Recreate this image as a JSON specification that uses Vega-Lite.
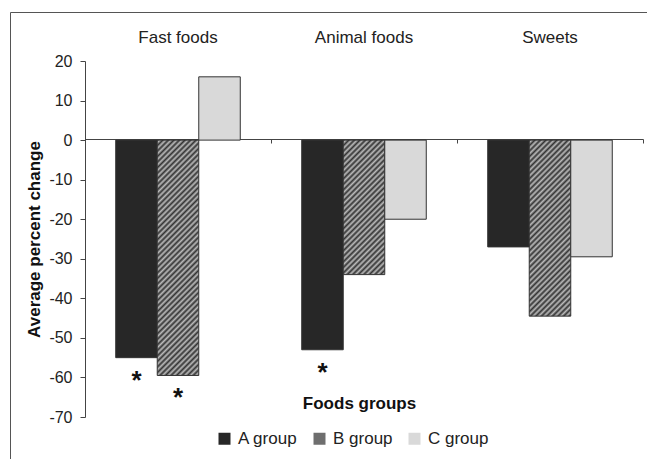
{
  "$schema": "https://vega.github.io/schema/vega-lite/v6.json",
  "width": 637,
  "height": 447,
  "autosize": {"type": "none"},
  "padding": {"left": 10, "top": 12, "right": 0, "bottom": 0},
  "background": "white",
  "data": {
    "values": [
      {"food": "Fast foods", "group": "A group", "value": -55, "sig": "*"},
      {"food": "Fast foods", "group": "B group", "value": -59.5, "sig": "*"},
      {"food": "Fast foods", "group": "C group", "value": 16, "sig": ""},
      {"food": "Animal foods", "group": "A group", "value": -53, "sig": "*"},
      {"food": "Animal foods", "group": "B group", "value": -34, "sig": ""},
      {"food": "Animal foods", "group": "C group", "value": -20, "sig": ""},
      {"food": "Sweets", "group": "A group", "value": -27, "sig": ""},
      {"food": "Sweets", "group": "B group", "value": -44.5, "sig": ""},
      {"food": "Sweets", "group": "C group", "value": -29.5, "sig": ""}
    ]
  },
  "encoding": {
    "xOffset": {
      "field": "group", "type": "nominal",
      "sort": ["A group", "B group", "C group"],
      "scale": {"paddingInner": 0, "paddingOuter": 0.74}
    },
    "y": {
      "field": "value", "type": "quantitative",
      "scale": {"domain": [-70, 20], "range": [405, 49], "nice": false, "zero": false},
      "axis": {"offset": -75, "values": [-70, -60, -50, -40, -30, -20, -10, 0, 10, 20], "labelExpr": "'' + datum.value", "tickSize": 5, "labelPadding": 8, "grid": false, "title": "Average percent change", "titlePadding": 5}
    }
  },
  "layer": [
    {
      "mark": {"type": "bar", "stroke": "#333", "strokeWidth": 1},
      "encoding": {
        "x": {
          "field": "food", "type": "nominal",
          "sort": ["Fast foods", "Animal foods", "Sweets"],
          "scale": {"range": [75, 633], "paddingInner": 0, "paddingOuter": 0},
          "axis": {"orient": "top", "offset": -30, "domain": false, "ticks": false, "tickSize": 0, "labelPadding": 0, "labelBaseline": "alphabetic", "labelAngle": 0, "labelFontSize": 17, "labelColor": "#222", "title": null}
        },
        "fill": {
          "field": "group", "type": "nominal",
          "scale": {"domain": ["A group", "B group", "C group"], "range": ["#272727", "#6e6e6e", "#d9d9d9"]},
          "legend": {
            "orient": "none", "legendX": 206, "legendY": 418, "direction": "horizontal", "title": null,
            "symbolType": "square", "symbolSize": 144, "symbolStrokeWidth": 0, "labelFontSize": 17, "labelColor": "#222",
            "labelOffset": 5, "columnPadding": 13, "padding": 0,
            "encode": {
              "symbols": {
                "update": {
                  "fill": {"signal": "datum.value === 'B group' ? {gradient: 'linear', x1: 0, y1: 1, x2: 1, y2: 0, stops: [{offset: 0, color: '#333'}, {offset: 0.1, color: '#bbb'}, {offset: 0.2, color: '#333'}, {offset: 0.3, color: '#bbb'}, {offset: 0.4, color: '#333'}, {offset: 0.5, color: '#bbb'}, {offset: 0.6, color: '#333'}, {offset: 0.7, color: '#bbb'}, {offset: 0.8, color: '#333'}, {offset: 0.9, color: '#bbb'}, {offset: 1, color: '#333'}]} : scale('fill', datum.value)"}
                }
              }
            }
          },
          "condition": [
            {"test": "datum.group === 'B group' && datum.food === 'Fast foods'", "value": {"gradient": "linear", "x1": 0, "y1": 0, "x2": 0.2012, "y2": 1.1408, "stops": [
              {"offset": 0, "color": "#333"}, {"offset": 0.01, "color": "#bbb"}, {"offset": 0.02, "color": "#333"}, {"offset": 0.03, "color": "#bbb"}, {"offset": 0.04, "color": "#333"}, {"offset": 0.05, "color": "#bbb"}, {"offset": 0.06, "color": "#333"}, {"offset": 0.07, "color": "#bbb"}, {"offset": 0.08, "color": "#333"}, {"offset": 0.09, "color": "#bbb"},
              {"offset": 0.1, "color": "#333"}, {"offset": 0.11, "color": "#bbb"}, {"offset": 0.12, "color": "#333"}, {"offset": 0.13, "color": "#bbb"}, {"offset": 0.14, "color": "#333"}, {"offset": 0.15, "color": "#bbb"}, {"offset": 0.16, "color": "#333"}, {"offset": 0.17, "color": "#bbb"}, {"offset": 0.18, "color": "#333"}, {"offset": 0.19, "color": "#bbb"},
              {"offset": 0.2, "color": "#333"}, {"offset": 0.21, "color": "#bbb"}, {"offset": 0.22, "color": "#333"}, {"offset": 0.23, "color": "#bbb"}, {"offset": 0.24, "color": "#333"}, {"offset": 0.25, "color": "#bbb"}, {"offset": 0.26, "color": "#333"}, {"offset": 0.27, "color": "#bbb"}, {"offset": 0.28, "color": "#333"}, {"offset": 0.29, "color": "#bbb"},
              {"offset": 0.3, "color": "#333"}, {"offset": 0.31, "color": "#bbb"}, {"offset": 0.32, "color": "#333"}, {"offset": 0.33, "color": "#bbb"}, {"offset": 0.34, "color": "#333"}, {"offset": 0.35, "color": "#bbb"}, {"offset": 0.36, "color": "#333"}, {"offset": 0.37, "color": "#bbb"}, {"offset": 0.38, "color": "#333"}, {"offset": 0.39, "color": "#bbb"},
              {"offset": 0.4, "color": "#333"}, {"offset": 0.41, "color": "#bbb"}, {"offset": 0.42, "color": "#333"}, {"offset": 0.43, "color": "#bbb"}, {"offset": 0.44, "color": "#333"}, {"offset": 0.45, "color": "#bbb"}, {"offset": 0.46, "color": "#333"}, {"offset": 0.47, "color": "#bbb"}, {"offset": 0.48, "color": "#333"}, {"offset": 0.49, "color": "#bbb"},
              {"offset": 0.5, "color": "#333"}, {"offset": 0.51, "color": "#bbb"}, {"offset": 0.52, "color": "#333"}, {"offset": 0.53, "color": "#bbb"}, {"offset": 0.54, "color": "#333"}, {"offset": 0.55, "color": "#bbb"}, {"offset": 0.56, "color": "#333"}, {"offset": 0.57, "color": "#bbb"}, {"offset": 0.58, "color": "#333"}, {"offset": 0.59, "color": "#bbb"},
              {"offset": 0.6, "color": "#333"}, {"offset": 0.61, "color": "#bbb"}, {"offset": 0.62, "color": "#333"}, {"offset": 0.63, "color": "#bbb"}, {"offset": 0.64, "color": "#333"}, {"offset": 0.65, "color": "#bbb"}, {"offset": 0.66, "color": "#333"}, {"offset": 0.67, "color": "#bbb"}, {"offset": 0.68, "color": "#333"}, {"offset": 0.69, "color": "#bbb"},
              {"offset": 0.7, "color": "#333"}, {"offset": 0.71, "color": "#bbb"}, {"offset": 0.72, "color": "#333"}, {"offset": 0.73, "color": "#bbb"}, {"offset": 0.74, "color": "#333"}, {"offset": 0.75, "color": "#bbb"}, {"offset": 0.76, "color": "#333"}, {"offset": 0.77, "color": "#bbb"}, {"offset": 0.78, "color": "#333"}, {"offset": 0.79, "color": "#bbb"},
              {"offset": 0.8, "color": "#333"}, {"offset": 0.81, "color": "#bbb"}, {"offset": 0.82, "color": "#333"}, {"offset": 0.83, "color": "#bbb"}, {"offset": 0.84, "color": "#333"}, {"offset": 0.85, "color": "#bbb"}, {"offset": 0.86, "color": "#333"}, {"offset": 0.87, "color": "#bbb"}, {"offset": 0.88, "color": "#333"}, {"offset": 0.89, "color": "#bbb"},
              {"offset": 0.9, "color": "#333"}, {"offset": 0.91, "color": "#bbb"}, {"offset": 0.92, "color": "#333"}, {"offset": 0.93, "color": "#bbb"}, {"offset": 0.94, "color": "#333"}, {"offset": 0.95, "color": "#bbb"}, {"offset": 0.96, "color": "#333"}, {"offset": 0.97, "color": "#bbb"}, {"offset": 0.98, "color": "#333"}, {"offset": 0.99, "color": "#bbb"},
              {"offset": 1, "color": "#333"}
            ]}},
            {"test": "datum.group === 'B group' && datum.food === 'Animal foods'", "value": {"gradient": "linear", "x1": 0, "y1": 0, "x2": 0.5802, "y2": 1.8797, "stops": [
              {"offset": 0, "color": "#333"}, {"offset": 0.01, "color": "#bbb"}, {"offset": 0.02, "color": "#333"}, {"offset": 0.03, "color": "#bbb"}, {"offset": 0.04, "color": "#333"}, {"offset": 0.05, "color": "#bbb"}, {"offset": 0.06, "color": "#333"}, {"offset": 0.07, "color": "#bbb"}, {"offset": 0.08, "color": "#333"}, {"offset": 0.09, "color": "#bbb"},
              {"offset": 0.1, "color": "#333"}, {"offset": 0.11, "color": "#bbb"}, {"offset": 0.12, "color": "#333"}, {"offset": 0.13, "color": "#bbb"}, {"offset": 0.14, "color": "#333"}, {"offset": 0.15, "color": "#bbb"}, {"offset": 0.16, "color": "#333"}, {"offset": 0.17, "color": "#bbb"}, {"offset": 0.18, "color": "#333"}, {"offset": 0.19, "color": "#bbb"},
              {"offset": 0.2, "color": "#333"}, {"offset": 0.21, "color": "#bbb"}, {"offset": 0.22, "color": "#333"}, {"offset": 0.23, "color": "#bbb"}, {"offset": 0.24, "color": "#333"}, {"offset": 0.25, "color": "#bbb"}, {"offset": 0.26, "color": "#333"}, {"offset": 0.27, "color": "#bbb"}, {"offset": 0.28, "color": "#333"}, {"offset": 0.29, "color": "#bbb"},
              {"offset": 0.3, "color": "#333"}, {"offset": 0.31, "color": "#bbb"}, {"offset": 0.32, "color": "#333"}, {"offset": 0.33, "color": "#bbb"}, {"offset": 0.34, "color": "#333"}, {"offset": 0.35, "color": "#bbb"}, {"offset": 0.36, "color": "#333"}, {"offset": 0.37, "color": "#bbb"}, {"offset": 0.38, "color": "#333"}, {"offset": 0.39, "color": "#bbb"},
              {"offset": 0.4, "color": "#333"}, {"offset": 0.41, "color": "#bbb"}, {"offset": 0.42, "color": "#333"}, {"offset": 0.43, "color": "#bbb"}, {"offset": 0.44, "color": "#333"}, {"offset": 0.45, "color": "#bbb"}, {"offset": 0.46, "color": "#333"}, {"offset": 0.47, "color": "#bbb"}, {"offset": 0.48, "color": "#333"}, {"offset": 0.49, "color": "#bbb"},
              {"offset": 0.5, "color": "#333"}, {"offset": 0.51, "color": "#bbb"}, {"offset": 0.52, "color": "#333"}, {"offset": 0.53, "color": "#bbb"}, {"offset": 0.54, "color": "#333"}, {"offset": 0.55, "color": "#bbb"}, {"offset": 0.56, "color": "#333"}, {"offset": 0.57, "color": "#bbb"}, {"offset": 0.58, "color": "#333"}, {"offset": 0.59, "color": "#bbb"},
              {"offset": 0.6, "color": "#333"}, {"offset": 0.61, "color": "#bbb"}, {"offset": 0.62, "color": "#333"}, {"offset": 0.63, "color": "#bbb"}, {"offset": 0.64, "color": "#333"}, {"offset": 0.65, "color": "#bbb"}, {"offset": 0.66, "color": "#333"}
            ]}},
            {"test": "datum.group === 'B group' && datum.food === 'Sweets'", "value": {"gradient": "linear", "x1": 0, "y1": 0, "x2": 0.3516, "y2": 1.4903, "stops": [
              {"offset": 0, "color": "#333"}, {"offset": 0.01, "color": "#bbb"}, {"offset": 0.02, "color": "#333"}, {"offset": 0.03, "color": "#bbb"}, {"offset": 0.04, "color": "#333"}, {"offset": 0.05, "color": "#bbb"}, {"offset": 0.06, "color": "#333"}, {"offset": 0.07, "color": "#bbb"}, {"offset": 0.08, "color": "#333"}, {"offset": 0.09, "color": "#bbb"},
              {"offset": 0.1, "color": "#333"}, {"offset": 0.11, "color": "#bbb"}, {"offset": 0.12, "color": "#333"}, {"offset": 0.13, "color": "#bbb"}, {"offset": 0.14, "color": "#333"}, {"offset": 0.15, "color": "#bbb"}, {"offset": 0.16, "color": "#333"}, {"offset": 0.17, "color": "#bbb"}, {"offset": 0.18, "color": "#333"}, {"offset": 0.19, "color": "#bbb"},
              {"offset": 0.2, "color": "#333"}, {"offset": 0.21, "color": "#bbb"}, {"offset": 0.22, "color": "#333"}, {"offset": 0.23, "color": "#bbb"}, {"offset": 0.24, "color": "#333"}, {"offset": 0.25, "color": "#bbb"}, {"offset": 0.26, "color": "#333"}, {"offset": 0.27, "color": "#bbb"}, {"offset": 0.28, "color": "#333"}, {"offset": 0.29, "color": "#bbb"},
              {"offset": 0.3, "color": "#333"}, {"offset": 0.31, "color": "#bbb"}, {"offset": 0.32, "color": "#333"}, {"offset": 0.33, "color": "#bbb"}, {"offset": 0.34, "color": "#333"}, {"offset": 0.35, "color": "#bbb"}, {"offset": 0.36, "color": "#333"}, {"offset": 0.37, "color": "#bbb"}, {"offset": 0.38, "color": "#333"}, {"offset": 0.39, "color": "#bbb"},
              {"offset": 0.4, "color": "#333"}, {"offset": 0.41, "color": "#bbb"}, {"offset": 0.42, "color": "#333"}, {"offset": 0.43, "color": "#bbb"}, {"offset": 0.44, "color": "#333"}, {"offset": 0.45, "color": "#bbb"}, {"offset": 0.46, "color": "#333"}, {"offset": 0.47, "color": "#bbb"}, {"offset": 0.48, "color": "#333"}, {"offset": 0.49, "color": "#bbb"},
              {"offset": 0.5, "color": "#333"}, {"offset": 0.51, "color": "#bbb"}, {"offset": 0.52, "color": "#333"}, {"offset": 0.53, "color": "#bbb"}, {"offset": 0.54, "color": "#333"}, {"offset": 0.55, "color": "#bbb"}, {"offset": 0.56, "color": "#333"}, {"offset": 0.57, "color": "#bbb"}, {"offset": 0.58, "color": "#333"}, {"offset": 0.59, "color": "#bbb"},
              {"offset": 0.6, "color": "#333"}, {"offset": 0.61, "color": "#bbb"}, {"offset": 0.62, "color": "#333"}, {"offset": 0.63, "color": "#bbb"}, {"offset": 0.64, "color": "#333"}, {"offset": 0.65, "color": "#bbb"}, {"offset": 0.66, "color": "#333"}, {"offset": 0.67, "color": "#bbb"}, {"offset": 0.68, "color": "#333"}, {"offset": 0.69, "color": "#bbb"},
              {"offset": 0.7, "color": "#333"}, {"offset": 0.71, "color": "#bbb"}, {"offset": 0.72, "color": "#333"}, {"offset": 0.73, "color": "#bbb"}, {"offset": 0.74, "color": "#333"}, {"offset": 0.75, "color": "#bbb"}, {"offset": 0.76, "color": "#333"}, {"offset": 0.77, "color": "#bbb"}, {"offset": 0.78, "color": "#333"}, {"offset": 0.79, "color": "#bbb"},
              {"offset": 0.8, "color": "#333"}
            ]}}
          ]
        }
      }
    },
    {
      "transform": [{"filter": "datum.sig === '*'"}],
      "mark": {"type": "text", "fontSize": 26, "fontWeight": "bold", "baseline": "alphabetic", "dy": 31, "color": "#111"},
      "encoding": {
        "x": {
          "field": "food", "type": "nominal",
          "sort": ["Fast foods", "Animal foods", "Sweets"],
          "axis": {"orient": "bottom", "offset": -320, "labels": false, "domain": true, "ticks": true, "tickSize": 4, "tickBand": "extent", "title": "Foods groups", "titleX": 349, "titleY": 269, "titleBaseline": "alphabetic"}
        },
        "text": {"field": "sig"}
      }
    }
  ],
  "config": {
    "font": "Liberation Sans",
    "view": {"stroke": "#555", "strokeWidth": 1},
    "axis": {
      "domainColor": "#444", "tickColor": "#444", "labelColor": "#222", "titleColor": "#111",
      "labelFont": "Liberation Sans", "titleFont": "Liberation Sans",
      "labelFontSize": 16, "titleFontSize": 17, "titleFontWeight": "bold"
    },
    "legend": {"labelFont": "Liberation Sans"}
  }
}
